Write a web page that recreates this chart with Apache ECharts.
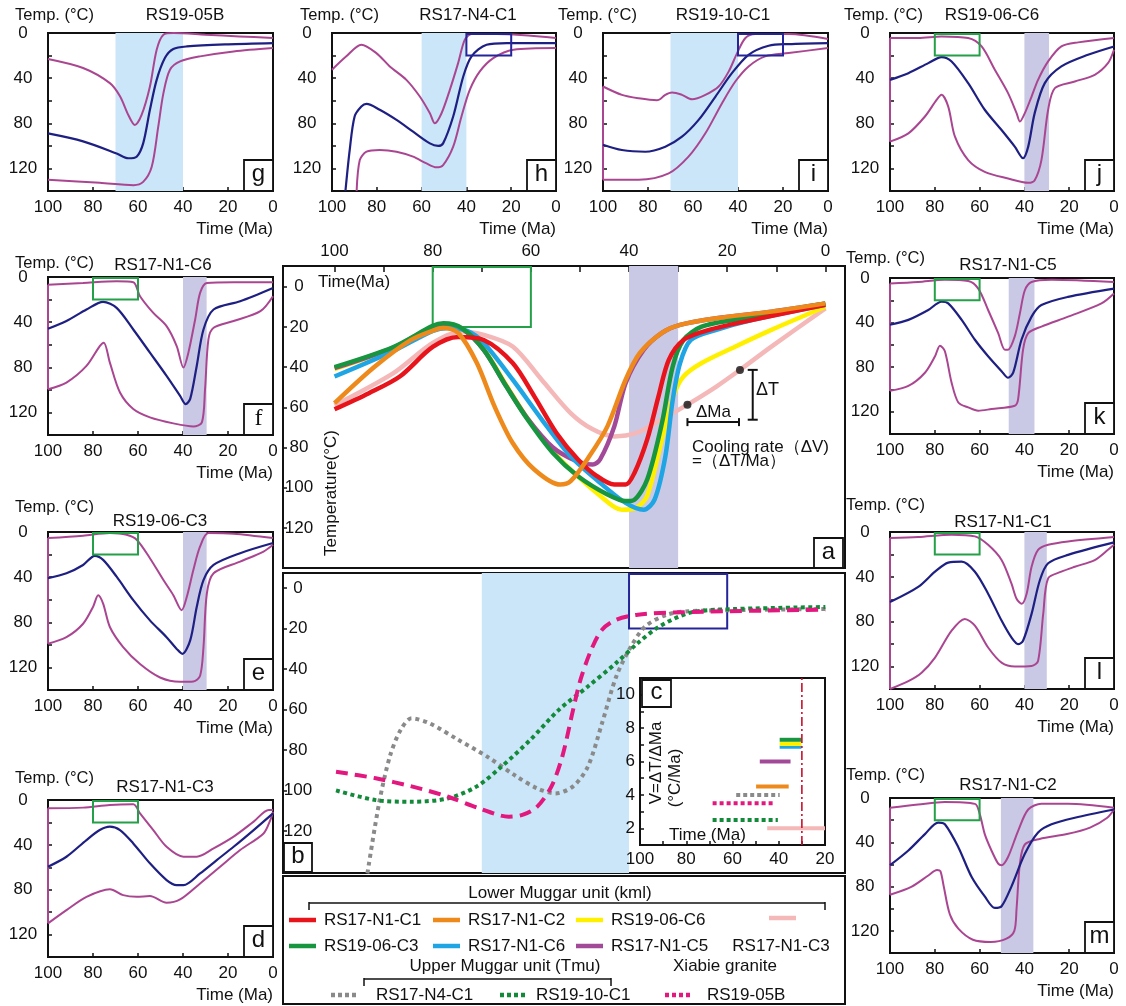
<!DOCTYPE html>
<html><head><meta charset="utf-8">
<script src="https://cdn.jsdelivr.net/npm/echarts@6/dist/echarts.min.js"></script>
<style>html,body{margin:0;padding:0;background:#fff;}#c{width:1126px;height:1006px;}</style>
</head><body><div id="c"></div>
<script>
// ================= DATA (Time Ma, Temperature °C) =================
const smallTimeTicks = [100, 80, 60, 40, 20, 0];
const smallTempTicks = [0, 40, 80, 120];
const mainTimeTicks = [100, 80, 60, 40, 20, 0];
const mainTempTicks = [0, 20, 40, 60, 80, 100, 120];

// small panels: upper envelope, best fit, lower envelope
const g_up = [[100,23],[84.4,31],[72.5,44.4],[68,56],[64.3,72.6],[61.4,81.5],[58.4,72.6],[54.7,47.4],[51.7,14.8],[48.7,1.5],[44.3,0],[30,1.5],[15,3],[0,4.4]];
const g_best = [[100,89],[84.4,96],[69.5,106.7],[64.3,111],[60.6,109.6],[57.7,97.8],[54.7,68],[51.7,41.5],[48,22],[44.3,14.2],[38.3,11.9],[20,10],[0,8.9]];
const g_low = [[100,130],[77,132.7],[62,134.8],[57.7,131.9],[53.9,118.5],[51,83],[48.7,53.3],[45.8,32.6],[41.3,25.2],[32.4,20.7],[17.5,16.3],[0,13.3]];

const h_up = [[100,32.6],[93.6,20.7],[86.9,10.4],[80.2,17.8],[74.2,29.6],[66.8,41.5],[60.8,56.3],[56.3,71.1],[54.1,80],[51.1,71.1],[47.4,50.4],[43.7,26.7],[40.7,5.9],[37.7,0.9],[26.5,0.9],[0,4.4]];
const h_best = [[94,140],[92.1,103.7],[89.9,74],[86.9,65.2],[84.6,62.8],[78.7,68],[71.2,77],[63.8,87.4],[56.3,97.8],[52.6,100],[50.4,97.8],[45.9,74],[41.4,38.5],[37.7,20.7],[31,10.4],[22,8.9],[0,8.9]];
const h_low = [[89,140],[87.6,112.6],[84.6,105.2],[78.7,103.7],[71.2,105.2],[63.8,109.6],[57.8,115.6],[53.4,119],[50.4,117],[45.9,100.7],[42.2,74],[38.5,50.4],[34,34],[28,22.2],[19,14.8],[0,13.3]];

const i_up = [[100,47.4],[91.6,54.8],[84.1,57.8],[76,59.5],[74.5,58.5],[72.5,55],[69.3,52.7],[64.9,54.8],[60.4,58.7],[54.5,54.8],[48.6,47.4],[44.1,34],[40.4,17.8],[36.7,4.4],[32.3,0.9],[17.5,0.9],[0,5.3]];
const i_best = [[100,99],[91.6,103.7],[81.2,105.2],[72.3,100.7],[64.9,91.9],[57.5,77],[50,56.3],[42.7,35.6],[35.3,19.3],[26.4,11.3],[17.5,9.8],[0,8.9]];
const i_low = [[100,130],[84.1,130],[70.8,124.4],[62,109.6],[54.5,88.9],[47.1,62.2],[41.2,43],[35.3,29.6],[27.9,20.7],[17.5,17.8],[0,13.3]];

const j_up = [[100,4.4],[87.4,4.4],[77,3],[65.1,4.4],[59.1,11.9],[53.2,32.6],[47.3,53.3],[43.5,71],[42,78.5],[39.8,71],[36.8,56.3],[33.9,41.5],[29.4,25.2],[23.5,11.9],[16,8.3],[0,4.4]];
const j_best = [[100,41.5],[91.8,35.6],[82.9,26.7],[77,21.3],[72.5,25.2],[65.1,44.4],[57.7,68],[50.2,86],[44.3,100.7],[40.6,111],[38.3,100.7],[35.4,71],[30.9,44.4],[23.5,29.6],[11.6,19.3],[0,11.9]];
const j_low = [[100,96.3],[91.8,88.9],[84.4,74],[79.2,59.3],[77,54.8],[74,65.2],[71,91.9],[65.1,112.6],[57.7,123],[47.3,128.9],[38.3,132.7],[35.4,130.4],[32.4,112.6],[29.4,68],[26.4,48.9],[17.5,43],[8.6,37],[2.7,26.7],[0,14.8]];

const f_up = [[100,6.8],[84.4,5.3],[69.5,3.8],[62.1,4.7],[59.1,17],[53.2,31.8],[47.3,43.5],[42.8,61.2],[39.8,80.3],[37.6,67],[34.6,37.6],[32.4,14.1],[29.4,5.3],[17.5,4.7],[0,4.7]];
const f_best = [[100,45.9],[91.8,39],[82.9,28.8],[75.5,22],[69.5,27.4],[62.1,46.5],[54.7,67],[47.3,87.6],[41.3,105.3],[38.8,112.6],[36.8,108],[33.9,78.8],[30.9,46.5],[26.4,28.8],[14.6,21.5],[0,9.7]];
const f_low = [[100,99.4],[91.8,93.5],[82.9,78.8],[77,61.2],[75.2,58.2],[72.5,75.9],[68,102.4],[62.1,117],[54.7,124.4],[44.3,129.7],[35.4,132.4],[31.6,128.8],[30.2,99.4],[28.7,55.3],[26.4,45],[17.5,39],[5.6,30.3],[0,17]];

const e_up = [[100,5.4],[84.4,3.3],[72.5,0.9],[65.1,2.4],[60.6,6.8],[54.7,23.2],[48.7,42.6],[44.3,56],[40.6,69.3],[38.3,57.4],[35.4,33.6],[32.4,12.8],[28.7,0.9],[17.5,1.5],[0,5.4]];
const e_best = [[100,41],[91.8,36.6],[84.4,29.2],[79.2,21.1],[75.5,24.7],[69.5,39.6],[62.1,60.4],[54.7,78.3],[47.3,93.2],[42.8,103.6],[40.3,108],[36.8,96],[33.9,66.4],[30.9,42.6],[26.4,29.2],[14.6,18.8],[0,9.8]];
const e_low = [[100,99],[91.8,93.2],[84.4,81.3],[80,66.4],[77.7,56],[75.5,63.4],[72.5,84.2],[66.6,102],[59.1,117],[50.2,128.9],[41.3,132.7],[35.4,132.4],[32.4,127.4],[30.9,102],[29.4,54.5],[26.4,36.6],[14.6,26.2],[4.2,17.3],[0,11.3]];

const d_up = [[100,7.4],[84.4,6.8],[72.5,4.5],[62.1,3.9],[59.1,11.9],[53.2,26.8],[47.3,41.7],[39.8,50.6],[33.9,50.6],[26.4,43.2],[17.5,32.7],[8.6,19.3],[1.9,8.9],[0,8.9]];
const d_best = [[100,59.5],[91.8,50.6],[82.9,35.7],[77,26.8],[72.5,23.8],[68,26.8],[62.1,38.7],[54.7,56.5],[47.3,71.4],[42.8,75.9],[39.8,75.9],[32.4,65.5],[25,53.6],[17.5,41.7],[8.6,26.8],[0,11.9]];
const d_low = [[100,110],[91.8,98.2],[82.9,86.3],[72.5,79.5],[66.6,84.8],[60.6,86.3],[54.7,85.7],[47.3,91.7],[41.3,88.7],[32.4,74.4],[23.5,59.5],[14.6,44.6],[4.2,29.8],[1.2,17.9],[0,10.4]];

const k_up = [[100,5],[87.4,3.6],[75.5,1.5],[65.1,2.7],[60.6,9.5],[56.2,28.7],[51.7,49.5],[48.7,64.3],[47.3,64.3],[44.3,52.4],[42,31.7],[39.8,11],[36.8,3.6],[27.9,1.5],[0,3.6]];
const k_best = [[100,42],[91.8,37.6],[82.9,28.7],[77,21.3],[74,22.8],[68,37.6],[62.1,55.4],[56.2,70.2],[50.2,83.6],[47.3,89.5],[45,85],[41.3,55.4],[36.8,34.7],[32.4,24.3],[20.5,16.9],[0,9.5]];
const k_low = [[100,101.3],[91.8,96.9],[84.4,85],[79.9,70.2],[77.7,60.7],[75.5,65.8],[72.5,93.9],[69.5,111.7],[65.1,116.1],[60.6,119.1],[54.7,117.6],[44.3,114.7],[42.8,108.7],[40.6,64.3],[38.3,49.5],[32.4,43.6],[20.5,34.7],[5.6,22.8],[0,13.9]];

const l_up = [[100,5.4],[87.4,4.5],[72.5,2.4],[62.1,3.9],[56.2,11.4],[50.2,24.9],[45.8,45.9],[43.5,59.5],[41.2,64],[39,55],[36.8,31],[33.9,15.9],[29.4,11.4],[20.5,8.4],[0,4.5]];
const l_best = [[100,62.5],[87.4,49],[79.9,35.4],[74,27.3],[68,26.4],[62.1,35.4],[56.2,55],[50.2,79],[45.8,94],[42.8,100],[40.6,97],[36.8,73],[33.1,43],[29.4,27.9],[20.5,20.4],[0,9.3]];
const l_low = [[100,140],[91.8,133],[85.9,125.5],[79.9,112],[72.5,88],[66.6,77.5],[62.1,83.5],[56.2,103],[50.2,116.5],[44.3,120],[36.8,119.5],[33.9,115],[31.6,73],[29.4,41.4],[23.5,35.4],[17.5,31],[8.6,25],[2.7,15.9],[0,11.4]];

const m_up = [[100,8.9],[87.4,5.9],[75.5,3.6],[62.1,5.3],[59.9,14.8],[57.7,32.6],[54.7,47.4],[51.7,59.3],[50.2,60.7],[47.3,53.3],[42.8,29.6],[38.3,10.4],[32.4,5.3],[20.5,5.3],[0,8.9]];
const m_best = [[100,60.7],[91.8,47.4],[84.4,32.6],[78.5,22.2],[75.5,23.7],[69.5,44.4],[63.6,71.1],[57.7,88.9],[53.2,99.3],[50.2,97.8],[45.8,80],[39.8,50.4],[33.9,31.1],[27.9,23.7],[17.5,17.8],[0,10.4]];
const m_low = [[100,87.4],[90.3,80],[82.9,70],[79,65],[77.5,66],[76,80],[73.3,105],[69.5,118],[63,128],[55,130],[48,127],[44.5,120],[43.5,100],[42,59],[39.8,42],[33.2,37],[21,32.6],[10.7,26.7],[3,17.8],[0,10.4]];

// shaded time windows (Ma from, Ma to)
const g_band = [70, 40], h_band = [60, 40], i_band = [70, 40], j_band = [40, 29];
const f_band = [40, 29.5], e_band = [40, 29.5], k_band = [47, 35.5], l_band = [40, 30], m_band = [50.5, 36];
// constraint boxes (Ma from, Ma to, lower temp)
const greenWindow = [80, 60, 20];
const blueWindow = [40, 20, 20];

// panel a: best-fit paths
const a_RS17_N1_C1 = [[100,61],[93,53],[86.7,44.7],[80,30],[74.8,25],[69.6,26.5],[63.7,38],[59.3,54.6],[54.8,72.8],[50.4,86],[46.7,94],[43,98.5],[40.7,98.5],[38.9,92.7],[36.3,76],[34,54.6],[31.9,36.4],[28.9,26.5],[23.7,21.5],[14.8,16.5],[0,9]];
const a_RS17_N1_C2 = [[100,58],[91.9,40],[84.4,26.5],[79,21],[77.8,20.5],[74.8,23],[71,38],[67.4,59.6],[63.7,77.8],[59.3,91],[54,98.5],[51.9,96.8],[48.1,84.4],[44.4,69.5],[40.7,46.3],[37.8,33],[33.3,23],[29.6,19],[22.2,15.7],[11,12.4],[0,8.3]];
const a_RS19_06_C6 = [[100,41],[88,30.5],[80,20],[77.8,19],[74,21],[69.6,31],[65,49],[60.7,65.5],[55.5,82],[51.9,91],[45.9,104],[41.5,111],[38.5,110],[36.3,104],[33.3,76],[31,54.6],[28.9,44.7],[25.2,38],[18.5,30],[11,21.5],[0,10]];
const a_RS19_06_C3 = [[100,40],[88,30],[80,19.5],[77.8,18.2],[74,20.7],[69.6,31.4],[65,49.7],[60.7,66],[55.5,82.8],[50.4,94.3],[44.4,103.4],[40.7,106.7],[38.9,106],[36.3,96],[33.3,67.9],[31.1,39.7],[28.9,26.5],[25.2,19.9],[18.5,16.5],[0,8.3]];
const a_RS17_N1_C6 = [[100,44.7],[88,32],[80,22],[77,20.5],[73,22],[69.6,28],[63.7,46.3],[57.8,66],[51.9,84.4],[45.9,97.6],[40.7,107.6],[37,111],[34.8,106],[32.6,84.4],[31.1,56.3],[29.6,38],[27.4,26.5],[22.2,21.5],[14.8,16.5],[0,9]];
const a_RS17_N1_C5 = [[100,40.5],[88,30.3],[80,19.8],[77.8,18.7],[74,21],[69.6,31.5],[65,49.5],[60.7,65.5],[55.5,80],[50.5,87],[47.4,88.5],[45.9,86],[43,69.5],[40.7,48],[37,31.4],[33.3,23],[29.6,19],[22.2,15.7],[11,12.4],[0,8.5]];
const a_RS17_N1_C3 = [[100,59],[88,43],[80,28],[74,22.3],[69.6,24],[63.7,29.8],[57.8,46.3],[51.9,62.9],[47.4,71],[43,74.5],[38.5,72.8],[34,67],[28.1,58.7],[22.2,49.7],[17.4,41.4],[11,29.8],[0,10.8]];
const a_band = [40, 30];
const a_dots = [[28.1, 58.7], [17.4, 41.4]];
const a_deltaT = [14.8, 41.4, 14.8, 66.2];
const a_deltaMa = [28.1, 67.4, 17.6, 67.4];

// panel b
const b_RS17_N4_C1 = [[93.3,141],[90.9,106],[88.7,83],[86.5,70],[84.3,64.4],[80.7,66.8],[74.8,75],[68.9,83.3],[63,93],[58.7,99],[55,101.5],[51.4,98],[48.4,88.3],[45.5,66.8],[42.6,43.7],[39.6,28.9],[36.7,19],[32.3,13.2],[27.9,11.5],[15,10.8],[0,10.4]];
const b_RS19_10_C1 = [[99.7,100],[91.6,104.8],[84.3,105.6],[77,104],[71,98],[66,88.3],[60.1,75],[54.3,60.2],[48.4,48.7],[42.6,37],[38.2,27.2],[33.8,19],[27.9,12.4],[22,10.7],[0,9.4]];
const b_RS19_05B = [[99.7,90.8],[91.6,94],[84.3,98],[77,103],[70.4,109],[64.5,113],[61.6,112],[58.7,108],[55.8,98],[53.6,83.3],[51.4,60.2],[49.9,45.4],[47.7,30.5],[45.5,20.6],[42.6,15.7],[38.2,13.2],[29.4,12],[0,10.7]];
const b_band = [70, 40];

// panel c: cooling-rate bars [Ma start, Ma end, rate °C/Ma]
const c_RS19_06_C3 = [39.6, 30.2, 7.3];
const c_RS19_06_C6 = [39.6, 30.2, 7.05];
const c_RS17_N1_C6 = [39.6, 30.2, 6.85];
const c_RS17_N1_C5 = [48.2, 34.9, 6.0];
const c_RS17_N1_C2 = [49.8, 35.7, 4.5];
const c_RS17_N4_C1 = [58.4, 39.6, 4.0];
const c_RS19_05B = [68.6, 42.0, 3.5];
const c_RS19_10_C1 = [68.6, 40.4, 2.5];
const c_RS17_N1_C3 = [45.0, 20.0, 2.0];
const c_eventMa = 30;
const c_timeTicks = [100, 80, 60, 40, 20];
const c_rateTicks = [2, 4, 6, 8, 10];

// ================= STYLE / LAYOUT =================
const FONT = 'Arial, "Liberation Sans", sans-serif';
const INK = '#111';
const ENV = '#aa4691', BEST = '#1e1f82';
const BAND_BLUE = '#cbe6f8', BAND_LAV = '#c9c9e5';
const GREEN_BOX = '#24a048', NAVY_BOX = '#24259a';
const COL = {red:'#e8141c', orange:'#ee8a1c', yellow:'#fff000', green:'#17963f', cyan:'#1fa4e4', purple:'#a24a98', pink:'#f4b8b8', gray:'#8a8a8a', gdot:'#138a3a', mag:'#e2187e', event:'#c8102e'};

const smallSpecs = [
  {key:'g', title:'RS19-05B',   box:[48,33,273,191],  temp:[15,15],  name:[185,15],  up:g_up, best:g_best, low:g_low, band:g_band, bandColor:BAND_BLUE, win:null, closeLeft:false},
  {key:'h', title:'RS17-N4-C1', box:[332,33,556,191], temp:[300,15], name:[468,15],  up:h_up, best:h_best, low:h_low, band:h_band, bandColor:BAND_BLUE, win:blueWindow, winColor:NAVY_BOX, closeLeft:false},
  {key:'i', title:'RS19-10-C1', box:[603,33,828,191], temp:[558,15], name:[723,15],  up:i_up, best:i_best, low:i_low, band:i_band, bandColor:BAND_BLUE, win:blueWindow, winColor:NAVY_BOX, closeLeft:true},
  {key:'j', title:'RS19-06-C6', box:[890,33,1114,191],temp:[844,15], name:[992,15],  up:j_up, best:j_best, low:j_low, band:j_band, bandColor:BAND_LAV, win:greenWindow, winColor:GREEN_BOX, closeLeft:true},
  {key:'f', title:'RS17-N1-C6', box:[48,277,273,435], temp:[15,263], name:[163,265], up:f_up, best:f_best, low:f_low, band:f_band, bandColor:BAND_LAV, win:greenWindow, winColor:GREEN_BOX, closeLeft:true, serif:true},
  {key:'e', title:'RS19-06-C3', box:[48,532,273,690], temp:[15,507], name:[160,521], up:e_up, best:e_best, low:e_low, band:e_band, bandColor:BAND_LAV, win:greenWindow, winColor:GREEN_BOX, closeLeft:true},
  {key:'d', title:'RS17-N1-C3', box:[48,800,273,957], temp:[15,778], name:[165,787], up:d_up, best:d_best, low:d_low, band:null, win:greenWindow, winColor:GREEN_BOX, closeLeft:true},
  {key:'k', title:'RS17-N1-C5', box:[890,278,1114,434], temp:[846,258], name:[1008,265], up:k_up, best:k_best, low:k_low, band:k_band, bandColor:BAND_LAV, win:greenWindow, winColor:GREEN_BOX, closeLeft:true},
  {key:'l', title:'RS17-N1-C1', box:[890,532,1114,689], temp:[846,505], name:[1003,522], up:l_up, best:l_best, low:l_low, band:l_band, bandColor:BAND_LAV, win:greenWindow, winColor:GREEN_BOX, closeLeft:true},
  {key:'m', title:'RS17-N1-C2', box:[890,798,1114,953], temp:[846,775], name:[1008,785], up:m_up, best:m_best, low:m_low, band:m_band, bandColor:BAND_LAV, win:greenWindow, winColor:GREEN_BOX, closeLeft:true}
];

const grids = [], xAxes = [], yAxes = [], series = [], gfx = [];

function txt(x, y, text, o) {
  o = o || {};
  gfx.push({type:'text', z:100, x:x, y:y, rotation:o.rot||0, silent:true,
    style:{text:text, x:0, y:0, fill:o.color||INK, font:(o.size||17)+'px '+(o.family||FONT),
      textAlign:o.align||'left', textVerticalAlign:'middle'}});
}
function gline(x1,y1,x2,y2,color,w,dash){
  gfx.push({type:'line', z:100, silent:true, shape:{x1,y1,x2,y2}, style:{stroke:color, lineWidth:w, lineDash:dash||null}});
}
function grect(x,y,w,h,fill,stroke,lw){
  gfx.push({type:'rect', z:99, silent:true, shape:{x,y,width:w,height:h}, style:{fill:fill||'none', stroke:stroke||INK, lineWidth:lw||2}});
}
function letterBox(x,y,w,h,letter,family){
  grect(x,y,w,h,'#fff',INK,1.8);
  txt(x+w/2, y+h/2-1, letter, {size:24, align:'center', family:family});
}

function bandSeries(idx, band, color) {
  return {type:'custom', xAxisIndex:idx, yAxisIndex:idx, data:[band], z:1, silent:true, clip:true,
    renderItem:function(params, api){
      const cs = params.coordSys;
      const a = api.coord([api.value(0), 0])[0], b = api.coord([api.value(1), 0])[0];
      return {type:'rect', shape:{x:Math.min(a,b), y:cs.y, width:Math.abs(b-a), height:cs.height}, style:{fill:color}};
    }};
}
function windowSeries(idx, win, color) {
  return {type:'custom', xAxisIndex:idx, yAxisIndex:idx, data:[win], z:4, silent:true,
    renderItem:function(params, api){
      const cs = params.coordSys;
      const p1 = api.coord([api.value(0), 0]), p2 = api.coord([api.value(1), api.value(2)]);
      return {type:'rect', shape:{x:Math.min(p1[0],p2[0]), y:cs.y+1, width:Math.abs(p2[0]-p1[0]), height:p2[1]-cs.y-1},
        style:{fill:'none', stroke:color, lineWidth:2}};
    }};
}
function lineS(idx, data, color, width, dash, z) {
  return {type:'line', xAxisIndex:idx, yAxisIndex:idx, data:data, showSymbol:false, symbol:'none', smooth:0.3,
    lineStyle:{color:color, width:width, type:dash||'solid', cap:'butt'}, z:z||3, silent:true, animation:false};
}

const axisLineStyle = {show:true, onZero:false, lineStyle:{color:INK, width:2}};

// ---------- small panels ----------
smallSpecs.forEach(function(sp){
  const [L,T,R,B] = sp.box;
  const idx = grids.length;
  grids.push({left:L, top:T, width:R-L, height:B-T, show:true, borderColor:INK, borderWidth:2, backgroundColor:'transparent'});
  xAxes.push({gridIndex:idx, type:'value', min:0, max:100, interval:20, inverse:true,
    axisLine:axisLineStyle, axisTick:{show:true, inside:true, length:4, lineStyle:{color:INK, width:1.5}},
    axisLabel:{fontSize:17, color:INK, fontFamily:FONT, margin:8, formatter:function(v){return smallTimeTicks.indexOf(v)>=0?String(v):'';}},
    splitLine:{show:false}});
  yAxes.push({gridIndex:idx, type:'value', min:0, max:140, interval:20, inverse:true,
    axisLine:axisLineStyle, axisTick:{show:true, inside:true, length:4, lineStyle:{color:INK, width:1.5}},
    axisLabel:{fontSize:17, color:INK, fontFamily:FONT, margin:25, align:'center', formatter:function(v){return smallTempTicks.indexOf(v)>=0?String(v):'';}},
    splitLine:{show:false}});
  if (sp.band) series.push(bandSeries(idx, sp.band, sp.bandColor));
  series.push(lineS(idx, sp.up, ENV, 2));
  series.push(lineS(idx, sp.low, ENV, 2));
  if (sp.closeLeft) series.push(lineS(idx, [[100, sp.low[0][1]], [100, sp.up[0][1]]], ENV, 2));
  series.push(lineS(idx, sp.best, BEST, 2.2));
  if (sp.win) series.push(windowSeries(idx, sp.win, sp.winColor));
  txt(sp.temp[0], sp.temp[1], 'Temp. (°C)', {size:16.5});
  txt(sp.name[0], sp.name[1], sp.title, {size:17, align:'center'});
  txt(R, B+38, 'Time (Ma)', {size:17, align:'right'});
  letterBox(R-29, B-31, 29, 31, sp.key, sp.serif ? '"Liberation Serif", "Times New Roman", serif' : FONT);
});

// ---------- panel a ----------
const aIdx = grids.length;
grids.push({left:283, top:266, width:562, height:302, show:true, borderColor:INK, borderWidth:2, backgroundColor:'transparent'});
xAxes.push({gridIndex:aIdx, type:'value', position:'top', min:-4, max:110.5, inverse:true,
  axisLine:axisLineStyle,
  axisTick:{show:true, inside:true, length:6, lineStyle:{color:INK,width:1.5}, customValues:[0,10,20,30,40,50,60,70,80,90,100]},
  axisLabel:{fontSize:17, color:INK, fontFamily:FONT, margin:6, customValues:mainTimeTicks}, splitLine:{show:false}});
yAxes.push({gridIndex:aIdx, type:'value', min:-10.3, max:140, inverse:true,
  axisLine:axisLineStyle,
  axisTick:{show:true, inside:true, length:4, lineStyle:{color:INK,width:1.5}, customValues:mainTempTicks},
  axisLabel:{inside:true, fontSize:17, color:INK, fontFamily:FONT, margin:16, align:'center', customValues:mainTempTicks}, splitLine:{show:false}});
series.push(bandSeries(aIdx, a_band, BAND_LAV));
series.push(lineS(aIdx, a_RS17_N1_C3, COL.pink, 4.5, null, 3));
series.push(lineS(aIdx, a_RS19_06_C6, COL.yellow, 4.5, null, 4));
series.push(lineS(aIdx, a_RS17_N1_C5, COL.purple, 4.5, null, 5));
series.push(lineS(aIdx, a_RS17_N1_C6, COL.cyan, 4.5, null, 6));
series.push(lineS(aIdx, a_RS19_06_C3, COL.green, 4.5, null, 7));
series.push(lineS(aIdx, a_RS17_N1_C1, COL.red, 4.5, null, 8));
series.push(lineS(aIdx, a_RS17_N1_C2, COL.orange, 4.5, null, 9));
series.push(windowSeries(aIdx, greenWindow, GREEN_BOX));
series.push({type:'scatter', xAxisIndex:aIdx, yAxisIndex:aIdx, data:a_dots, symbolSize:8, itemStyle:{color:INK}, z:12, silent:true});
function bracketRender(params, api){
  const p1 = api.coord([api.value(0), api.value(1)]);
  const p2 = api.coord([api.value(2), api.value(3)]);
  const vertical = Math.abs(p1[0]-p2[0]) < Math.abs(p1[1]-p2[1]);
  const c = vertical ? 5 : 4;
  const segs = [[p1[0],p1[1],p2[0],p2[1]]];
  if (vertical) { segs.push([p1[0]-c,p1[1],p1[0]+c,p1[1]],[p2[0]-c,p2[1],p2[0]+c,p2[1]]); }
  else { segs.push([p1[0],p1[1]-c,p1[0],p1[1]+c],[p2[0],p2[1]-c,p2[0],p2[1]+c]); }
  return {type:'group', children:segs.map(function(s){return {type:'line', shape:{x1:s[0],y1:s[1],x2:s[2],y2:s[3]}, style:{stroke:INK, lineWidth:2}};})};
}
series.push({type:'custom', xAxisIndex:aIdx, yAxisIndex:aIdx, data:[a_deltaT, a_deltaMa], renderItem:bracketRender, z:12, silent:true});
txt(318, 282, 'Time(Ma)');
txt(331, 493, 'Temperature(°C)', {rot:Math.PI/2, align:'center'});
txt(756, 390, 'ΔT', {size:18});
txt(696, 412, 'ΔMa', {size:17});
txt(692, 447, 'Cooling rate（ΔV)', {size:17});
txt(692, 461, '=（ΔT/Ma）', {size:17});
letterBox(814, 538, 29, 30, 'a');

// ---------- panel b ----------
const bIdx = grids.length;
grids.push({left:283, top:573, width:562, height:300, show:true, borderColor:INK, borderWidth:2, backgroundColor:'transparent'});
xAxes.push({gridIndex:bIdx, type:'value', min:-4, max:110.5, inverse:true, axisLine:{show:false}, axisTick:{show:false}, axisLabel:{show:false}, splitLine:{show:false}});
yAxes.push({gridIndex:bIdx, type:'value', min:-7.4, max:140.8, inverse:true,
  axisLine:axisLineStyle,
  axisTick:{show:true, inside:true, length:4, lineStyle:{color:INK,width:1.5}, customValues:mainTempTicks},
  axisLabel:{inside:true, fontSize:17, color:INK, fontFamily:FONT, margin:15, align:'center', customValues:mainTempTicks}, splitLine:{show:false}});
series.push(bandSeries(bIdx, b_band, BAND_BLUE));
series.push(lineS(bIdx, b_RS17_N4_C1, COL.gray, 4, [4,4], 4));
series.push(lineS(bIdx, b_RS19_10_C1, COL.gdot, 4, [4,3.5], 5));
series.push(lineS(bIdx, b_RS19_05B, COL.mag, 4, [12,7], 6));
series.push(windowSeries(bIdx, blueWindow, NAVY_BOX));
letterBox(284, 843, 28, 29, 'b');

// ---------- inset c ----------
const cIdx = grids.length;
grids.push({left:640, top:678, width:185, height:167, show:true, borderColor:INK, borderWidth:2, backgroundColor:'#fff', z:5});
xAxes.push({gridIndex:cIdx, type:'value', min:20, max:100, interval:10, inverse:true,
  axisLine:axisLineStyle, axisTick:{show:true, inside:true, length:4, lineStyle:{color:INK,width:1.5}},
  axisLabel:{fontSize:17, color:INK, fontFamily:FONT, margin:6, formatter:function(v){return c_timeTicks.indexOf(v)>=0?String(v):'';}}, splitLine:{show:false}, z:6});
yAxes.push({gridIndex:cIdx, type:'value', min:1, max:11, interval:1,
  axisLine:axisLineStyle, axisTick:{show:true, inside:true, length:4, lineStyle:{color:INK,width:1.5}},
  axisLabel:{fontSize:17, color:INK, fontFamily:FONT, margin:5, formatter:function(v){return c_rateTicks.indexOf(v)>=0?String(v):'';}}, splitLine:{show:false}, z:6});
function bar(arr){ return [[arr[0], arr[2]], [arr[1], arr[2]]]; }
function cLine(arr, color, w, dash){ const s = lineS(cIdx, bar(arr), color, w, dash, 8); s.smooth = false; return s; }
series.push(cLine(c_RS17_N1_C6, COL.cyan, 3));
series.push(cLine(c_RS19_06_C6, COL.yellow, 4));
series.push(cLine(c_RS19_06_C3, COL.green, 4));
series.push(cLine(c_RS17_N1_C5, COL.purple, 4));
series.push(cLine(c_RS17_N1_C2, COL.orange, 4));
series.push(cLine(c_RS17_N4_C1, COL.gray, 4, [4,3]));
series.push(cLine(c_RS19_05B, COL.mag, 4, [4,3]));
series.push(cLine(c_RS19_10_C1, COL.gdot, 4, [4,3]));
series.push(cLine(c_RS17_N1_C3, COL.pink, 4));
(function(){ const s = lineS(cIdx, [[c_eventMa, 1], [c_eventMa, 11]], COL.event, 1.6, [9,3,2,3], 9); s.smooth = false; series.push(s); })();
txt(656, 763, 'V=ΔT/ΔMa', {rot:Math.PI/2, align:'center'});
txt(675, 778, '(°C/Ma)', {rot:Math.PI/2, align:'center'});
txt(669, 835, 'Time (Ma)');
letterBox(642, 680, 29, 27, 'c');

// ---------- legend box ----------
grect(283, 876, 562, 128, 'none', INK, 2);
txt(560, 893, 'Lower Muggar unit (kml)', {align:'center'});
gline(309, 903, 825, 903, INK, 1.5); gline(309, 902, 309, 910, INK, 1.5); gline(825, 902, 825, 910, INK, 1.5);
const legRows = [
  {c:COL.red, t:'RS17-N1-C1', x:289, y:920}, {c:COL.orange, t:'RS17-N1-C2', x:433, y:920}, {c:COL.yellow, t:'RS19-06-C6', x:576, y:920},
  {c:COL.green, t:'RS19-06-C3', x:289, y:946}, {c:COL.cyan, t:'RS17-N1-C6', x:433, y:946}, {c:COL.purple, t:'RS17-N1-C5', x:576, y:946}
];
legRows.forEach(function(r){ gline(r.x, r.y, r.x+27, r.y, r.c, 4.5); txt(r.x+35, r.y, r.t); });
gline(769, 918, 796, 918, COL.pink, 4.5);
txt(781, 946, 'RS17-N1-C3', {align:'center'});
txt(505, 966, 'Upper Muggar unit (Tmu)', {align:'center'});
txt(725, 966, 'Xiabie granite', {align:'center'});
gline(364, 979, 611, 979, INK, 1.5); gline(364, 978, 364, 986, INK, 1.5); gline(611, 978, 611, 986, INK, 1.5);
const legRows2 = [
  {c:COL.gray, t:'RS17-N4-C1', x:331, tx:376}, {c:COL.gdot, t:'RS19-10-C1', x:500, tx:536}, {c:COL.mag, t:'RS19-05B', x:665, tx:707}
];
legRows2.forEach(function(r){ gline(r.x, 995, r.x+27, 995, r.c, 4.5, [4,3]); txt(r.tx, 995, r.t); });

const chart = echarts.init(document.getElementById('c'), null, {renderer:'canvas'});
chart.setOption({
  animation:false,
  backgroundColor:'#fff',
  grid:grids, xAxis:xAxes, yAxis:yAxes, series:series,
  graphic:{elements:gfx}
});
</script></body></html>
